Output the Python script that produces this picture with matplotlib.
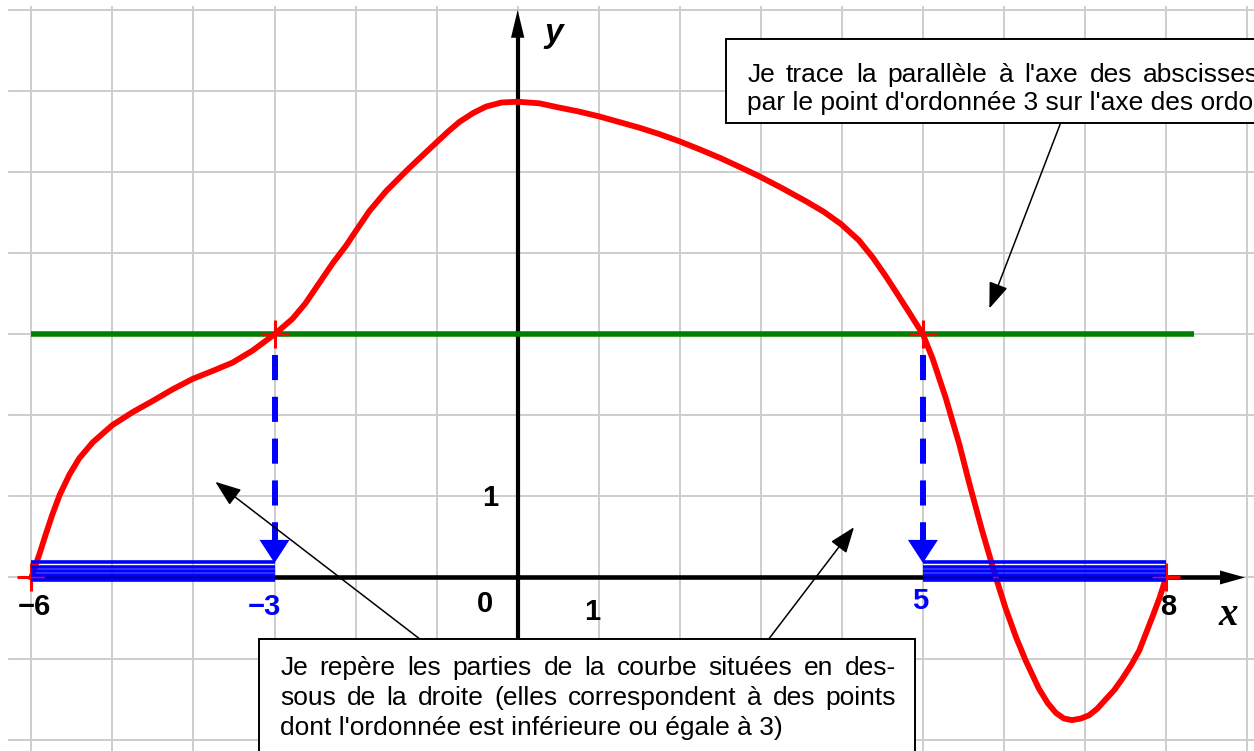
import matplotlib
matplotlib.use("Agg")
import matplotlib.pyplot as plt

# curve f, on [-6, 8]
curve_x = [-6.0, -5.9, -5.82, -5.74, -5.65, -5.53, -5.41, -5.24, -5.0, -4.75,
           -4.5, -4.26, -4.01, -3.76, -3.52, -3.27, -3.0, -2.78, -2.62, -2.45,
           -2.28, -2.12, -2.0, -1.83, -1.62, -1.45, -1.34, -1.17, -1.01, -0.86,
           -0.72, -0.55, -0.39, -0.2, 0.0, 0.27, 0.5, 0.75, 1.0, 1.25,
           1.5, 1.75, 2.0, 2.25, 2.49, 2.75, 2.98, 3.25, 3.56, 3.78,
           3.99, 4.21, 4.38, 4.54, 4.67, 4.83, 5.0, 5.12, 5.28, 5.45,
           5.57, 5.73, 5.9, 6.02, 6.15, 6.27, 6.43, 6.54, 6.64, 6.74,
           6.84, 6.95, 7.05, 7.15, 7.25, 7.36, 7.46, 7.57, 7.67, 7.83,
           7.92, 8.0]
curve_y = [0.0, 0.29, 0.54, 0.78, 1.02, 1.27, 1.47, 1.67, 1.88, 2.04,
           2.18, 2.32, 2.45, 2.55, 2.65, 2.8, 3.0, 3.19, 3.38, 3.63,
           3.88, 4.09, 4.27, 4.52, 4.77, 4.94, 5.05, 5.21, 5.36, 5.5,
           5.62, 5.73, 5.81, 5.86, 5.87, 5.85, 5.8, 5.75, 5.69, 5.62,
           5.55, 5.47, 5.38, 5.28, 5.18, 5.06, 4.95, 4.81, 4.64, 4.51,
           4.36, 4.16, 3.95, 3.72, 3.52, 3.27, 3.0, 2.7, 2.22, 1.64,
           1.17, 0.58, 0.0, -0.38, -0.74, -1.03, -1.37, -1.55, -1.67, -1.74,
           -1.76, -1.74, -1.7, -1.62, -1.51, -1.39, -1.25, -1.08, -0.9, -0.49,
           -0.25, 0.0]

level = 3
domain = [-6, 8]
roots = [-3, 5]
solution_parts = [(-6, -3), (5, 8)]
green_end = 8.35

black_labels = ["\u22126", "0", "1", "8"]
black_label_pos = [(-5.96, -0.37), (-0.40, -0.33), (0.92, -0.43), (8.03, -0.37)]
blue_labels = ["\u22123", "5"]
blue_label_pos = [(-3.12, -0.37), (4.97, -0.29)]
y_tick_label = "1"
y_tick_pos = (-0.34, 0.98)

top_lines = ["Je trace la parallèle à l'axe des abscisses",
             "par le point d'ordonnée 3 sur l'axe des ordonnées"]
bottom_lines = ["Je repère les parties de la courbe situées en des-",
                "sous de la droite (elles correspondent à des points",
                "dont l'ordonnée est inférieure ou égale à 3)"]

fig = plt.figure(figsize=(12.54, 7.51), dpi=100)
ax = fig.add_axes([0, 0, 1, 1])
ax.set_xlim(-6.387, 9.085)
ax.set_ylim(-2.141, 7.125)
ax.axis("off")

sans = "Liberation Sans"

# grid
for gx in range(-6, 10):
    ax.plot([gx, gx], [-2.3, 7.04], color="#cdcdcd", lw=1.4, zorder=1)
for gy in range(-2, 8):
    ax.plot([-6.28, 9.2], [gy, gy], color="#cdcdcd", lw=1.4, zorder=1)

# axes with arrows
ax.plot([domain[0], 8.8], [0, 0], color="black", lw=3.3, zorder=2, solid_capstyle="butt")
ax.annotate("", xy=(8.974, 0), xytext=(8.6, 0), zorder=2,
            arrowprops=dict(arrowstyle="-|>,head_length=1.0,head_width=0.28",
                            mutation_scale=18, lw=0, color="black", shrinkA=0, shrinkB=0))
ax.plot([0, 0], [-2.3, 6.8], color="black", lw=3.0, zorder=2, solid_capstyle="butt")
ax.annotate("", xy=(0, 7.002), xytext=(0, 6.5), zorder=2,
            arrowprops=dict(arrowstyle="-|>,head_length=1.0,head_width=0.24",
                            mutation_scale=20, lw=0, color="black", shrinkA=0, shrinkB=0))

# horizontal line y = 3
ax.plot([domain[0], green_end], [level, level], color="#008000", lw=4.0,
        solid_capstyle="butt", zorder=3)

# dashed projections onto the x axis
for r in roots:
    ax.plot([r, r], [2.745, 0.463], color="blue", lw=4.3, linestyle=(0, (4.2, 2.8)),
            zorder=3.5)
    ax.annotate("", xy=(r, 0.179), xytext=(r, 0.463), zorder=3.5,
                arrowprops=dict(arrowstyle="-|>,head_length=1.0,head_width=0.65",
                                mutation_scale=16.6, lw=0, color="blue",
                                shrinkA=0, shrinkB=0))

# the curve and its marked points
ax.plot(curve_x, curve_y, color="red", lw=4.2, zorder=4, solid_joinstyle="round")
ax.plot([domain[0], roots[0], roots[1], domain[1]], [0, level, level, 0],
        linestyle="none", marker="+", ms=20, mew=2.2, color="red", zorder=4)

# solution set hatching on the x axis
for a, b in solution_parts:
    for off in [0.19, 0.135, 0.08, 0.025, -0.03]:
        ax.plot([a, b], [off, off], color="blue", lw=2.6, solid_capstyle="butt", zorder=5)

# labels
for s, (lx, ly) in zip(black_labels, black_label_pos):
    ax.text(lx, ly, s, ha="center", va="center", fontsize=21, fontweight="bold",
            family=sans, color="black", zorder=6)
for s, (lx, ly) in zip(blue_labels, blue_label_pos):
    ax.text(lx, ly, s, ha="center", va="center", fontsize=21, fontweight="bold",
            family=sans, color="blue", zorder=6)
ax.text(*y_tick_pos, y_tick_label, ha="center", va="center", fontsize=21,
        fontweight="bold", family=sans, zorder=6)
ax.text(0.45, 6.61, "y", ha="center", va="baseline", fontsize=24, fontweight="bold",
        fontstyle="italic", family=sans, zorder=6)
ax.text(8.765, -0.585, "x", ha="center", va="baseline", fontsize=28, fontweight="bold",
        fontstyle="italic", family="Liberation Serif", zorder=6)

# callout arrows
arrow_kw = dict(arrowstyle="-|>,head_length=0.8,head_width=0.3", mutation_scale=20,
                lw=1.1, color="black", shrinkA=0, shrinkB=0)
ax.annotate("", xy=(5.82, 3.32), xytext=(6.70, 5.61), arrowprops=arrow_kw, zorder=6)
ax.annotate("", xy=(-3.73, 1.18), xytext=(-1.21, -0.757), arrowprops=arrow_kw, zorder=6)
ax.annotate("", xy=(4.15, 0.62), xytext=(3.10, -0.757), arrowprops=arrow_kw, zorder=6)

# text boxes
ax.add_patch(plt.Rectangle((2.573, 5.61), 8.0, 6.644 - 5.61, facecolor="white",
                           edgecolor="black", lw=1.4, zorder=7))
ax.add_patch(plt.Rectangle((-3.188, -3.0), 4.904 + 3.188, 3.0 - 0.757, facecolor="white",
                           edgecolor="black", lw=1.4, zorder=7))

renderer = fig.canvas.get_renderer()
text_kw = dict(fontsize=19, family=sans, va="baseline", ha="left", zorder=8)


def write_justified(line, x0, y, width_px):
    words = line.split()
    arts = [ax.text(x0, y, w, **text_kw) for w in words]
    widths = [t.get_window_extent(renderer).width for t in arts]
    gap = (width_px - sum(widths)) / (len(words) - 1)
    pos = ax.transData.transform((x0, y))[0]
    inv = ax.transData.inverted()
    for t, w in zip(arts, widths):
        t.set_x(inv.transform((pos, 0))[0])
        pos += w + gap


# top box
ax.text(2.832, 5.77, top_lines[1], **text_kw)
write_justified(top_lines[0], 2.832, 6.114, 512)

# bottom box
write_justified(bottom_lines[0], -2.929, -1.201, 616)
write_justified(bottom_lines[1], -2.929, -1.579, 616)
ax.text(-2.929, -1.940, bottom_lines[2], **text_kw)

fig.savefig("out.png", dpi=100)
